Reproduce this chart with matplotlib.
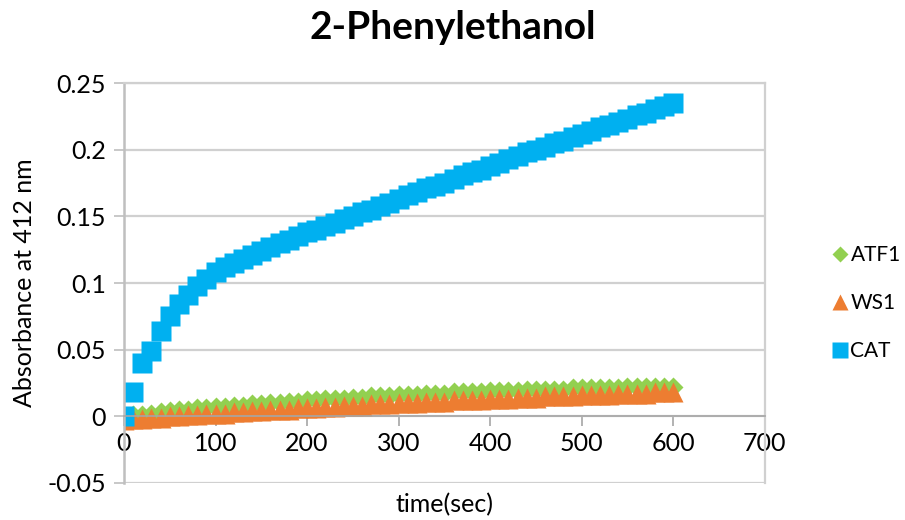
import matplotlib.pyplot as plt

plt.rcParams['font.family'] = ['Lato', 'DejaVu Sans']

# time points (s) and absorbance at 412 nm for each enzyme
time_sec = list(range(0, 610, 10))

atf1 = [0.000, 0.001, 0.001, 0.002, 0.003, 0.004, 0.005, 0.005, 0.006, 0.006,
        0.007, 0.007, 0.008, 0.008, 0.009, 0.009, 0.010, 0.010, 0.011, 0.011,
        0.012, 0.012, 0.013, 0.013, 0.013, 0.014, 0.014, 0.015, 0.015, 0.015,
        0.016, 0.016, 0.016, 0.017, 0.017, 0.017, 0.018, 0.018, 0.018, 0.018,
        0.019, 0.019, 0.019, 0.019, 0.020, 0.020, 0.020, 0.020, 0.020, 0.021,
        0.021, 0.021, 0.021, 0.021, 0.021, 0.022, 0.022, 0.022, 0.022, 0.022,
        0.022]

ws1 = [-0.003, -0.002, -0.002, -0.001, -0.001, 0.000, 0.000, 0.001, 0.001, 0.002,
       0.002, 0.002, 0.003, 0.003, 0.004, 0.004, 0.005, 0.005, 0.005, 0.006,
       0.006, 0.006, 0.007, 0.007, 0.008, 0.008, 0.008, 0.009, 0.009, 0.009,
       0.010, 0.010, 0.010, 0.011, 0.011, 0.011, 0.012, 0.012, 0.012, 0.012,
       0.013, 0.013, 0.013, 0.014, 0.014, 0.014, 0.015, 0.015, 0.015, 0.015,
       0.016, 0.016, 0.016, 0.016, 0.017, 0.017, 0.017, 0.017, 0.018, 0.018,
       0.018]

cat = [0.000, 0.018, 0.040, 0.049, 0.064, 0.075, 0.084, 0.091, 0.098, 0.103,
       0.108, 0.112, 0.115, 0.118, 0.121, 0.124, 0.127, 0.130, 0.132, 0.135,
       0.138, 0.140, 0.143, 0.145, 0.148, 0.150, 0.153, 0.155, 0.158, 0.160,
       0.163, 0.166, 0.168, 0.171, 0.173, 0.175, 0.178, 0.181, 0.183, 0.185,
       0.188, 0.190, 0.193, 0.195, 0.198, 0.200, 0.202, 0.205, 0.207, 0.210,
       0.212, 0.214, 0.217, 0.219, 0.221, 0.223, 0.226, 0.228, 0.231, 0.233,
       0.235]

x_ticks = [0, 100, 200, 300, 400, 500, 600, 700]
y_ticks = [-0.05, 0, 0.05, 0.1, 0.15, 0.2, 0.25]
y_labels = ["-0.05", "0", "0.05", "0.1", "0.15", "0.2", "0.25"]

fig = plt.figure(figsize=(9.05, 5.2), dpi=100)
ax = fig.add_axes([0.137, 0.0712, 0.708, 0.7688])

ax.plot(time_sec, atf1, ls='none', marker='D', ms=10.5, color='#92D050',
        mec='none', label='ATF1')
ax.plot(time_sec, ws1, ls='none', marker='^', ms=15, color='#ED7D31',
        mec='none', label='WS1')
ax.plot(time_sec, cat, ls='none', marker='s', ms=13.7, color='#00B0F0',
        mec='none', label='CAT')

ax.set_xlim(0, 700)
ax.set_ylim(-0.05, 0.25)
ax.set_xticks(x_ticks)
ax.set_yticks(y_ticks)
ax.set_yticklabels(y_labels)

# horizontal gridlines and light frame
ax.grid(axis='y', color='#d0d0d0', lw=1.6)
ax.set_axisbelow(True)
for side in ['top', 'right']:
    ax.spines[side].set_color('#d0d0d0')
    ax.spines[side].set_linewidth(1.6)
ax.spines['left'].set_color('#bfbfbf')
ax.spines['left'].set_linewidth(1.8)
ax.spines['bottom'].set_position(('data', 0))
ax.spines['bottom'].set_color('#a6a6a6')
ax.spines['bottom'].set_linewidth(1.2)

ax.tick_params(axis='x', direction='out', length=7, width=1.2, color='#a6a6a6',
               labelsize=18, pad=4)
ax.tick_params(axis='y', direction='out', length=7, width=1.2, color='#bfbfbf',
               labelsize=18, pad=6)

ax.set_ylabel('Absorbance at 412 nm', fontsize=18, labelpad=8)
ax.set_xlabel('time(sec)', fontsize=18)
ax.xaxis.set_label_coords(0.5, -0.025)

fig.suptitle('2-Phenylethanol', fontsize=28, fontweight='bold', x=0.5, y=0.98)

ax.legend(loc='center left', bbox_to_anchor=(1.085, 0.45), frameon=False,
          fontsize=15, markerscale=0.8, handlelength=0.6, handletextpad=0.2,
          labelspacing=1.35, borderpad=0.2)

fig.savefig('out.png', dpi=100)
